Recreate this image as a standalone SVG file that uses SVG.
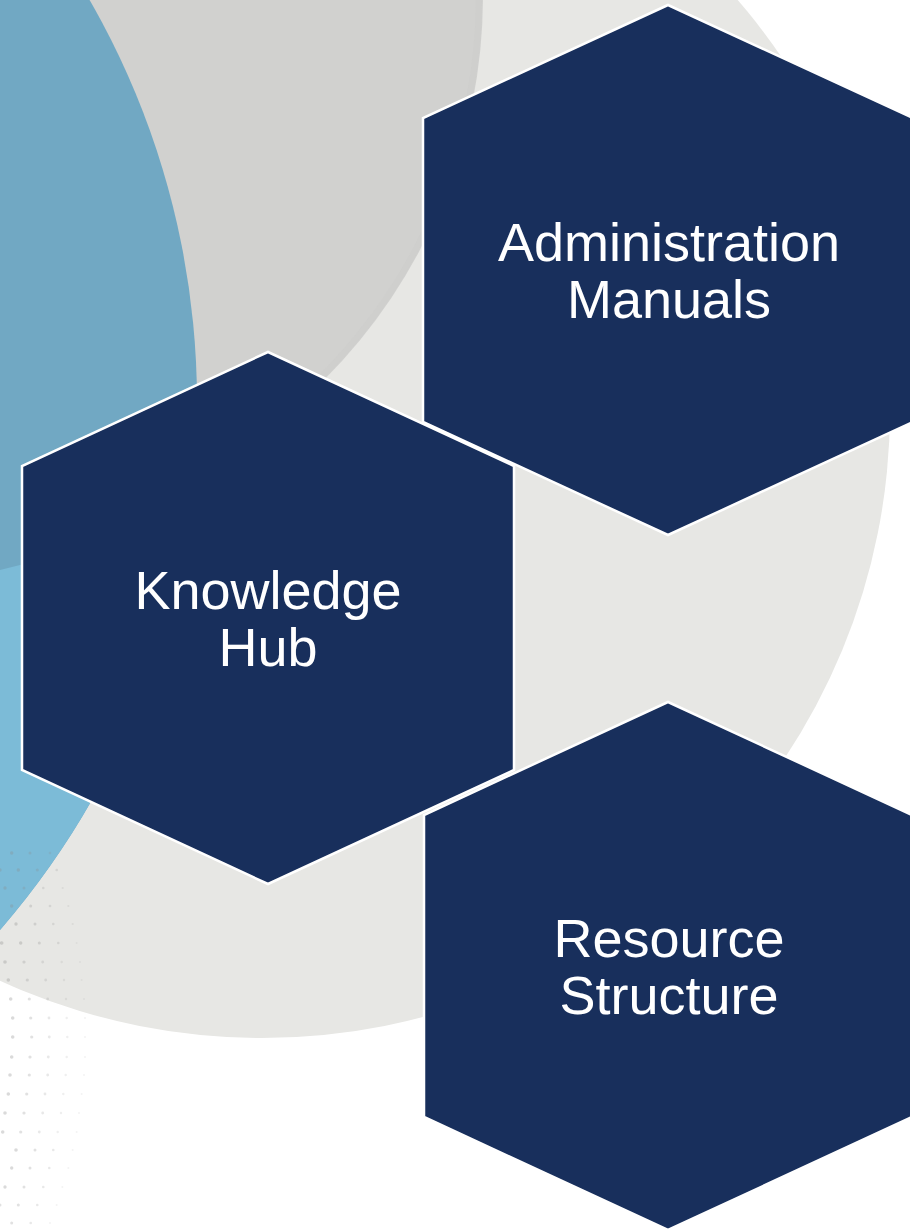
<svg xmlns="http://www.w3.org/2000/svg" width="910" height="1230" viewBox="0 0 910 1230">
  <style>
    .hex { fill: #182F5C; stroke: #FFFFFF; stroke-width: 2.5; stroke-linejoin: miter; }
    .lbl { font-family: "Liberation Sans", Arial, sans-serif; font-size: 54px; fill: #FFFFFF; text-anchor: middle; }
    .dot { fill: #8C8C8C; }
    .a { opacity: 0.32; } .b { opacity: 0.26; } .c { opacity: 0.2; } .d { opacity: 0.14; } .e { opacity: 0.1; }
  </style>
  <defs>
    <clipPath id="blueClip"><circle cx="-609" cy="402" r="806"/></clipPath>
  </defs>

  <g id="background">
    <rect x="0" y="0" width="910" height="1230" fill="#FFFFFF"/>
    <circle cx="262" cy="410" r="628" fill="#E7E7E4"/>
    <circle cx="-60" cy="-4" r="543" fill="#D1D1CF"/>
    <circle cx="-60" cy="-4" r="539" fill="none" stroke="#CDCDCB" stroke-width="6" opacity="0.6"/>
    <circle cx="-609" cy="402" r="806" fill="#71A8C3"/>
    <polygon points="0,570 320,490 320,1230 0,1230" fill="#7CBBD7" clip-path="url(#blueClip)"/>
  </g>

  <g id="dots">
    <g class="dot">
      <circle class="a" cx="11.7" cy="853" r="1.7"/><circle class="b" cx="30" cy="853" r="1.5"/><circle class="c" cx="50" cy="853" r="1.3"/>
      <circle class="a" cx="0" cy="870" r="1.7"/><circle class="a" cx="18.3" cy="870" r="1.7"/><circle class="b" cx="37.3" cy="870" r="1.5"/><circle class="c" cx="56.7" cy="870" r="1.3"/>
      <circle class="a" cx="5" cy="888" r="1.7"/><circle class="b" cx="24" cy="888" r="1.5"/><circle class="c" cx="43.3" cy="888" r="1.3"/><circle class="d" cx="62.7" cy="888" r="1.1"/>
      <circle class="a" cx="11.7" cy="906" r="1.7"/><circle class="b" cx="30.7" cy="906" r="1.5"/><circle class="c" cx="50" cy="906" r="1.3"/><circle class="d" cx="68.3" cy="906" r="1.1"/>
      <circle class="a" cx="16" cy="924" r="1.7"/><circle class="b" cx="35" cy="924" r="1.5"/><circle class="c" cx="53.3" cy="924" r="1.3"/><circle class="d" cx="72.7" cy="924" r="1.1"/>
      <circle class="a" cx="1.7" cy="943" r="1.8"/><circle class="a" cx="20.7" cy="943" r="1.7"/><circle class="b" cx="39.3" cy="943" r="1.5"/><circle class="c" cx="58.3" cy="943" r="1.3"/><circle class="e" cx="76.7" cy="943" r="1"/>
      <circle class="a" cx="5" cy="962" r="1.8"/><circle class="b" cx="24" cy="962" r="1.6"/><circle class="c" cx="42.7" cy="962" r="1.4"/><circle class="d" cx="61.7" cy="962" r="1.2"/><circle class="e" cx="80" cy="962" r="1"/>
      <circle class="a" cx="8.3" cy="980" r="1.8"/><circle class="b" cx="27.3" cy="980" r="1.6"/><circle class="c" cx="45.7" cy="980" r="1.4"/><circle class="d" cx="64" cy="980" r="1.2"/><circle class="e" cx="81.7" cy="980" r="1"/>
      <circle class="a" cx="10.7" cy="999" r="1.8"/><circle class="b" cx="29.3" cy="999" r="1.6"/><circle class="c" cx="47.7" cy="999" r="1.4"/><circle class="d" cx="66" cy="999" r="1.2"/><circle class="e" cx="84" cy="999" r="1"/>
      <circle class="a" cx="12.7" cy="1018" r="1.8"/><circle class="b" cx="30.7" cy="1018" r="1.6"/><circle class="c" cx="49" cy="1018" r="1.4"/><circle class="d" cx="66.7" cy="1018" r="1.2"/><circle class="e" cx="85" cy="1018" r="1"/>
      <circle class="a" cx="12.7" cy="1037" r="1.8"/><circle class="b" cx="31.7" cy="1037" r="1.6"/><circle class="c" cx="49.3" cy="1037" r="1.4"/><circle class="d" cx="67.3" cy="1037" r="1.2"/><circle class="e" cx="85" cy="1037" r="1"/>
      <circle class="a" cx="11.7" cy="1057" r="1.8"/><circle class="b" cx="30" cy="1057" r="1.6"/><circle class="c" cx="48.3" cy="1057" r="1.4"/><circle class="d" cx="66.7" cy="1057" r="1.2"/><circle class="e" cx="85" cy="1057" r="1"/>
      <circle class="a" cx="10" cy="1075" r="1.8"/><circle class="b" cx="29.3" cy="1075" r="1.6"/><circle class="c" cx="47.7" cy="1075" r="1.4"/><circle class="d" cx="65.7" cy="1075" r="1.2"/><circle class="e" cx="84" cy="1075" r="1"/>
      <circle class="a" cx="8.3" cy="1094" r="1.8"/><circle class="b" cx="26.7" cy="1094" r="1.6"/><circle class="c" cx="45" cy="1094" r="1.4"/><circle class="d" cx="63.3" cy="1094" r="1.2"/><circle class="e" cx="81.7" cy="1094" r="1"/>
      <circle class="a" cx="5" cy="1113" r="1.8"/><circle class="b" cx="24" cy="1113" r="1.6"/><circle class="c" cx="42.7" cy="1113" r="1.4"/><circle class="d" cx="61" cy="1113" r="1.2"/><circle class="e" cx="79" cy="1113" r="1"/>
      <circle class="a" cx="2.7" cy="1132" r="1.8"/><circle class="b" cx="20.7" cy="1132" r="1.6"/><circle class="c" cx="39.3" cy="1132" r="1.4"/><circle class="d" cx="57.7" cy="1132" r="1.2"/><circle class="e" cx="76.7" cy="1132" r="1"/>
      <circle class="a" cx="16" cy="1150" r="1.8"/><circle class="b" cx="35" cy="1150" r="1.5"/><circle class="c" cx="53.3" cy="1150" r="1.3"/><circle class="e" cx="72.7" cy="1150" r="1"/>
      <circle class="a" cx="11.7" cy="1168" r="1.7"/><circle class="b" cx="30" cy="1168" r="1.5"/><circle class="c" cx="49.3" cy="1168" r="1.3"/><circle class="e" cx="68.3" cy="1168" r="1"/>
      <circle class="a" cx="5" cy="1187" r="1.7"/><circle class="b" cx="24" cy="1187" r="1.5"/><circle class="c" cx="43.3" cy="1187" r="1.3"/><circle class="e" cx="62.3" cy="1187" r="1"/>
      <circle class="b" cx="0" cy="1205" r="1.5"/><circle class="b" cx="18.3" cy="1205" r="1.5"/><circle class="c" cx="37.3" cy="1205" r="1.3"/><circle class="e" cx="56.7" cy="1205" r="1"/>
      <circle class="b" cx="11.7" cy="1223" r="1.5"/><circle class="c" cx="30.7" cy="1223" r="1.3"/><circle class="e" cx="50" cy="1223" r="1"/>
    </g>
  </g>

  <g id="connectors"></g>

  <g id="node-knowledge-hub">
    <polygon class="hex" points="268,352 514,466 514,770 268,884 22,770 22,466"/>
    <text class="lbl" x="268" y="609">Knowledge</text>
    <text class="lbl" x="268" y="666">Hub</text>
  </g>

  <g id="node-administration-manuals">
    <polygon class="hex" points="668,5 913,118 913,422 668,535 423,422 423,118"/>
    <text class="lbl" x="669" y="261">Administration</text>
    <text class="lbl" x="669" y="318">Manuals</text>
  </g>

  <g id="node-resource-structure">
    <polygon class="hex" points="668,702 912,815 912,1117 668,1230 424,1117 424,815"/>
    <text class="lbl" x="669" y="957">Resource</text>
    <text class="lbl" x="669" y="1014">Structure</text>
  </g>
</svg>
